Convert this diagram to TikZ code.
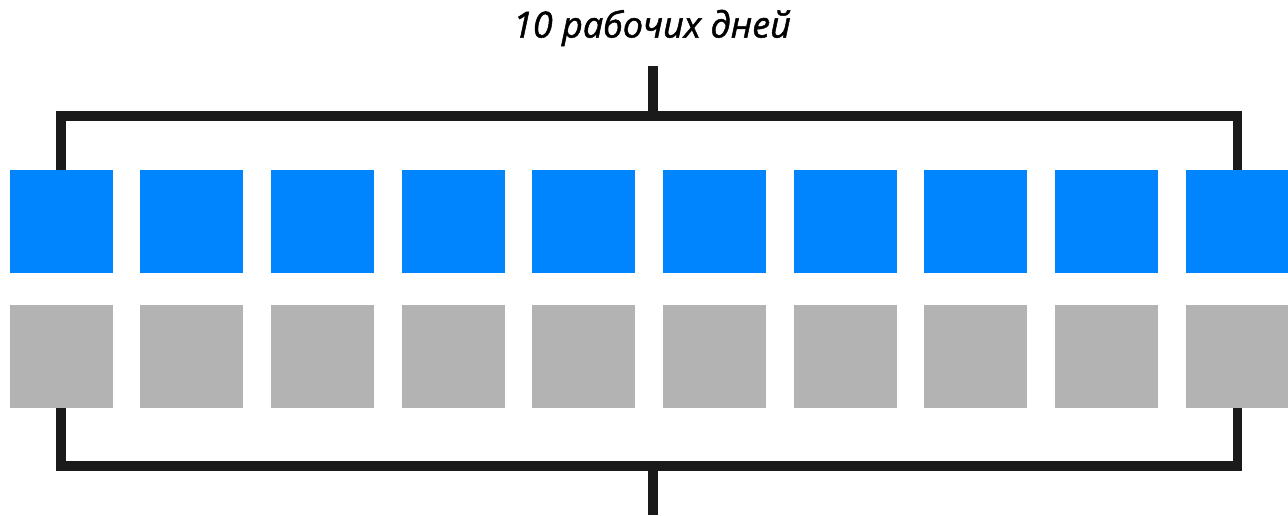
\documentclass[tikz,border=0pt]{standalone}
\usepackage{fontspec}
\setmainfont{Open Sans}
\newfontfamily\titlefont{Open Sans}[ItalicFeatures={FakeBold=1.3}]
\usetikzlibrary{positioning}
\definecolor{dayblue}{RGB}{0,133,255}
\definecolor{daygrey}{RGB}{179,179,179}
\definecolor{barblack}{RGB}{26,26,26}
\tikzset{
  daybox/.style={minimum size=103pt, inner sep=0pt, outer sep=0pt},
  bar/.style={draw=barblack, line width=9.5pt}
}
\begin{document}
\begin{tikzpicture}[x=1pt, y=-1pt]
\useasboundingbox (0,0) rectangle (1288,515);
\node (title) at (652,28) {\fontsize{36}{42}\selectfont\titlefont\itshape 10 рабочих дней};
% two rows of days
\foreach \i in {1,...,10} {
  \node (d\i) [daybox, fill=dayblue] at ({61+(\i-1)*130.7},221.5) {};
  \node (g\i) [daybox, fill=daygrey] at ({61+(\i-1)*130.7},356.5) {};
}
\coordinate (topbar) at (653,116);
\coordinate (topstem) at (653,66);
\coordinate (botbar) at (653,466);
\coordinate (botstem) at (653,515);
\draw[bar] (d1.north) |- (topbar) -| (d10.north);
\draw[bar] (topbar) -- (topstem);
\draw[bar] (g1.south) |- (botbar) -| (g10.south);
\draw[bar] (botbar) -- (botstem);
\end{tikzpicture}
\end{document}
